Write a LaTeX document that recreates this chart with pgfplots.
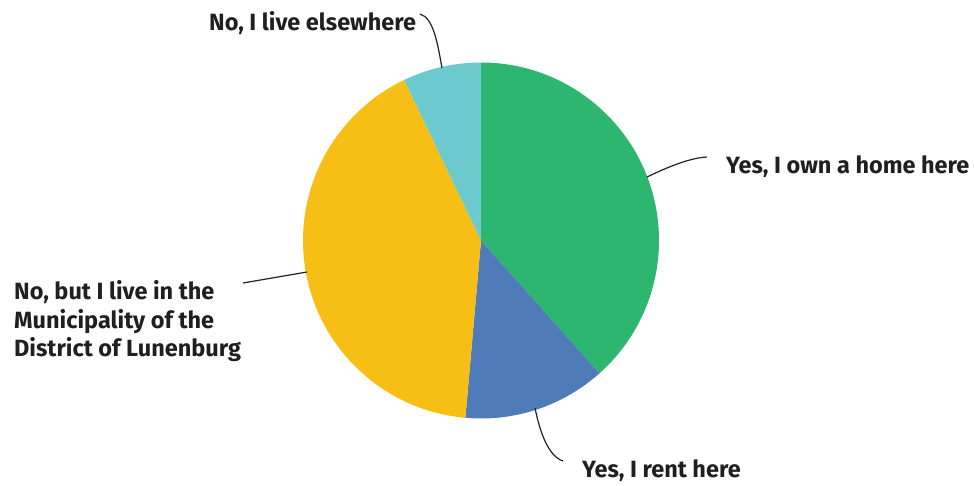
\documentclass[border=0pt]{standalone}
\usepackage{fontspec}
\setmainfont{Fira Sans}
\usepackage{pgfplots}
\usepackage{pgfplotstable}
\pgfplotsset{compat=1.18}
\definecolor{slice0}{HTML}{2DB670}
\definecolor{slice1}{HTML}{4F7CB8}
\definecolor{slice2}{HTML}{F7BF15}
\definecolor{slice3}{HTML}{6CC9CD}
\definecolor{leader}{HTML}{222222}
\pgfplotstableread{
value
38.4
13.0
41.5
7.1
}\piedata
\begin{document}
\begin{tikzpicture}
\begin{axis}[name=ax,x=1pt,y=1pt,disabledatascaling,
  xmin=0,xmax=974,ymin=0,ymax=485,y dir=reverse,
  axis lines=none,ticks=none,clip=false]
\def\startang{90}
\pgfplotsinvokeforeach{0,1,2,3}{%
  \pgfplotstablegetelem{#1}{value}\of\piedata
  \pgfmathsetmacro\endang{\startang-3.6*\pgfplotsretval}
  \edef\cmd{\noexpand\fill[slice#1] (axis cs:481,240.5) -- ++(\startang:178pt) arc[start angle=\startang, end angle=\endang, radius=178pt] -- cycle;}
  \cmd
  \global\let\startang\endang
}
\draw[leader,line width=1.2pt] (axis cs:647,177) .. controls (axis cs:670,166) and (axis cs:690,158) .. (axis cs:707,157);
\draw[leader,line width=1.2pt] (axis cs:535,408) .. controls (axis cs:540,432) and (axis cs:548,456) .. (axis cs:563,461);
\draw[leader,line width=1.2pt] (axis cs:307,272) -- (axis cs:243,283);
\draw[leader,line width=1.2pt] (axis cs:442,68) .. controls (axis cs:437,40) and (axis cs:433,18) .. (axis cs:420,14);
\tikzset{lab/.style={anchor=base west,inner sep=0pt,text=black!88,font=\bfseries\fontsize{23.5}{28}\selectfont}}
\node[lab] at (axis cs:726,173) {Yes, I own a home here};
\node[lab] at (axis cs:582,477) {Yes, I rent here};
\node[lab] at (axis cs:209,30) {No, I live elsewhere};
\node[lab] at (axis cs:14,299) {No, but I live in the};
\node[lab] at (axis cs:14,328) {Municipality of the};
\node[lab] at (axis cs:14,356) {District of Lunenburg};
\end{axis}
\pgfresetboundingbox
\path[use as bounding box] (ax.south west) rectangle (ax.north east);
\end{tikzpicture}
\end{document}
